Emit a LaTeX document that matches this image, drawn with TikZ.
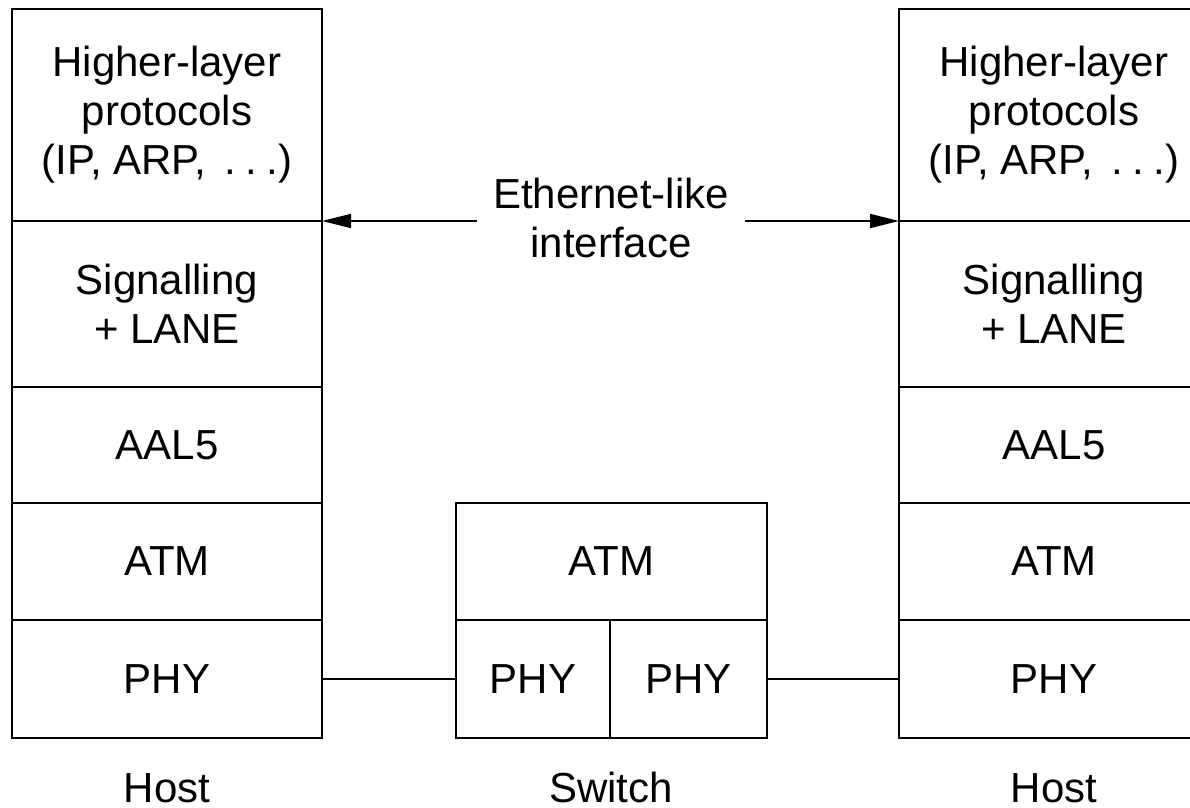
\documentclass[tikz,border=0pt]{standalone}
\usepackage{fontspec}
\setmainfont{Liberation Sans}
\usetikzlibrary{
  arrows.meta,
  calc,
}
\tikzstyle{txt} = [
  font=\fontsize{21}{24.5}\selectfont,
  align=center,
]
\tikzstyle{layer} = [
  txt,
  draw,
  line width=1pt,
  minimum width=155pt,
  inner sep=0pt,
  outer sep=0pt,
]
\tikzstyle{arrow} = [
  -{Triangle[length=14.5pt, width=7pt]},
  line width=0.7pt,
]
\tikzstyle{link} = [
  line width=0.7pt,
]
\tikzstyle{caption} = [
  txt,
  anchor=base,
]

\begin{document}
\begin{tikzpicture}[x=0.5pt, y=-0.5pt]

        \useasboundingbox (0,0) rectangle (1190,808);

        % the two host stacks
        \foreach \side/\x in {l/12, r/899} {
          \node [layer, minimum height=106pt, anchor=north west] (\side-hl) at (\x, 9)
                {Higher-layer\\protocols\\(IP, ARP,~\,.\hspace{0.22em}.\hspace{0.22em}.)};
          \node [layer, minimum height=83pt, anchor=north] (\side-sig) at (\side-hl.south)
                {Signalling\\+ LANE};
          \node [layer, minimum height=58pt, anchor=north] (\side-aal) at (\side-sig.south) {AAL5};
          \node [layer, minimum height=58.5pt, anchor=north] (\side-atm) at (\side-aal.south) {ATM};
          \node [layer, minimum height=59pt, anchor=north] (\side-phy) at (\side-atm.south) {PHY};
          \node [caption] (\side-cap) at (\x + 155, 802) {Host};
        }

        % the switch
        \node [layer, minimum width=155.5pt, minimum height=58.5pt, anchor=north west] (sw-atm) at (456, 503) {ATM};
        \node [layer, minimum width=77pt, minimum height=59pt, anchor=north west] (sw-phya) at (sw-atm.south west) {PHY};
        \node [layer, minimum width=78.5pt, minimum height=59pt, anchor=north east] (sw-phyb) at (sw-atm.south east) {PHY};
        \node [caption] (sw-cap) at (611, 802) {Switch};

        \draw [link] (l-phy.east) -- (sw-phya.west);
        \draw [link] (sw-phyb.east) -- (r-phy.west);

        % interface arrows
        \node [txt, inner xsep=8pt, inner ysep=0pt] (iface) at (611, 218) {Ethernet-like\\interface};

        \draw [arrow] (iface.west |- l-hl.south east) -- (l-hl.south east);
        \draw [arrow] (iface.east |- r-hl.south west) -- (r-hl.south west);
      \end{tikzpicture}
\end{document}
